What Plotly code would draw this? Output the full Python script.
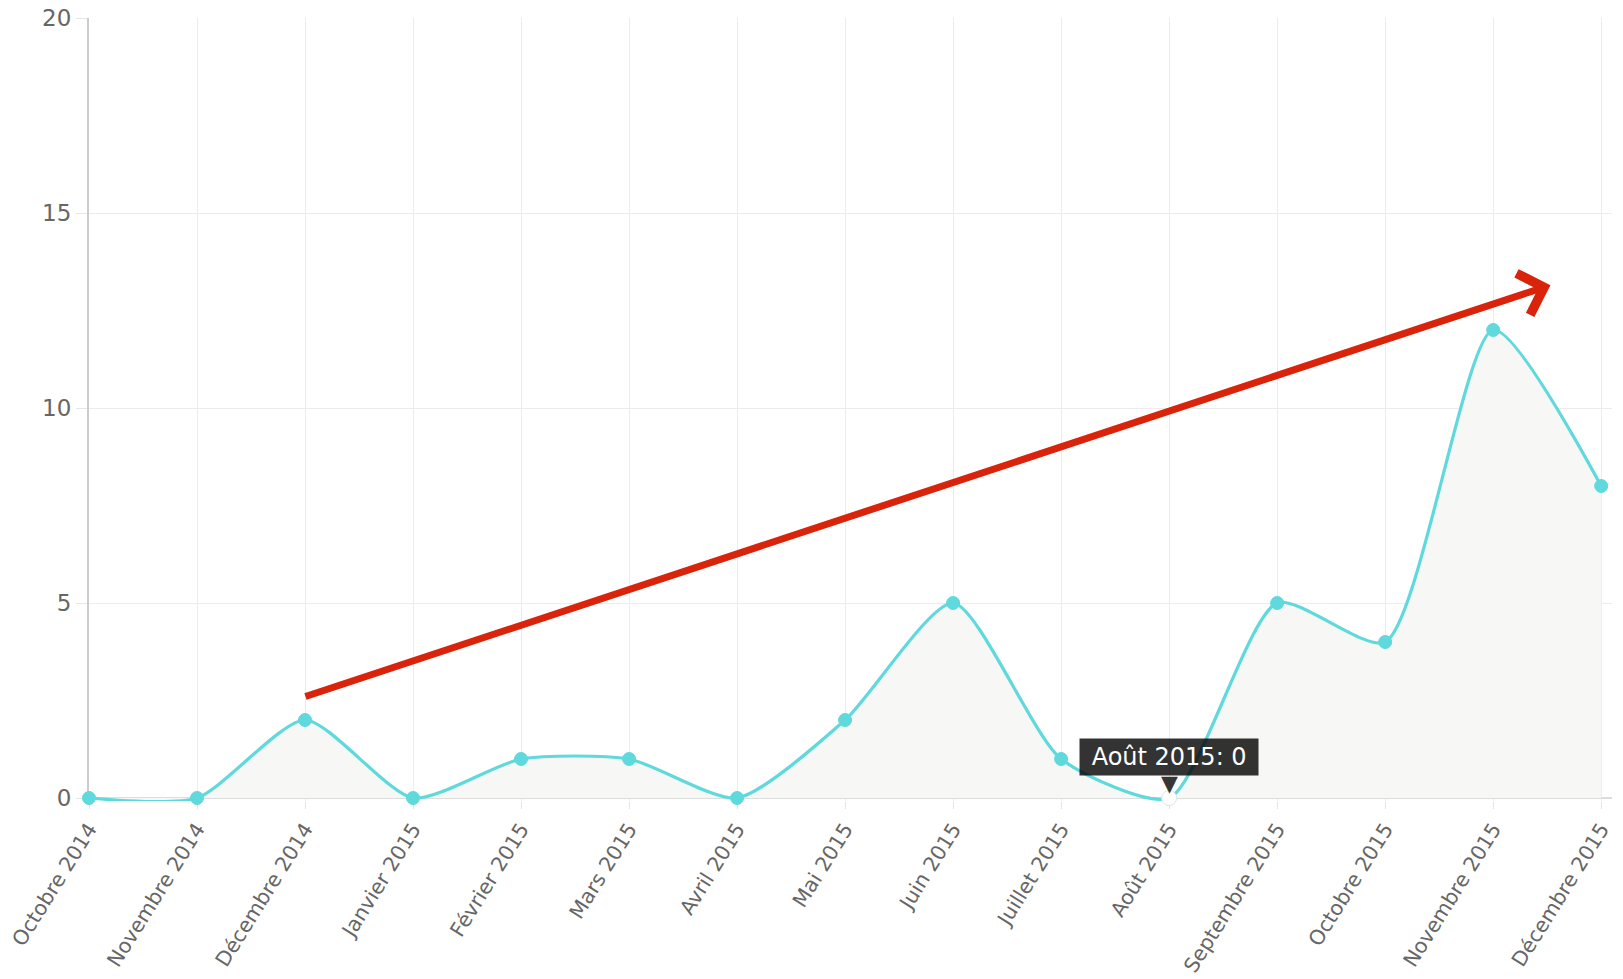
import plotly.graph_objects as go

months = ["Octobre 2014", "Novembre 2014", "Décembre 2014", "Janvier 2015", "Février 2015",
          "Mars 2015", "Avril 2015", "Mai 2015", "Juin 2015", "Juillet 2015", "Août 2015",
          "Septembre 2015", "Octobre 2015", "Novembre 2015", "Décembre 2015"]
values = [0, 0, 2, 0, 1, 1, 0, 2, 5, 1, 0, 5, 4, 12, 8]
y_ticks = [0, 5, 10, 15, 20]
hover_index = 10
tooltip_text = f" {months[hover_index]}: {values[hover_index]} "

# trend arrow (category index, value)
arrow_start = (1.99, 2.59)
arrow_end = (13.53, 13.15)

line_color = "#5fd9db"
FONT = "DejaVu Sans"
idx = list(range(len(months)))
marker_colors = ["white" if i == hover_index else line_color for i in idx]
marker_line_colors = ["#e3e3e3" if i == hover_index else line_color for i in idx]
marker_sizes = [15 if i == hover_index else 13 for i in idx]

fig = go.Figure()
fig.add_trace(go.Scatter(
    x=idx, y=values, mode="lines+markers",
    line=dict(color=line_color, width=3.2, shape="spline", smoothing=0.65),
    fill="tozeroy", fillcolor="rgba(247,247,245,1)",
    marker=dict(size=marker_sizes, color=marker_colors, opacity=1,
                line=dict(color=marker_line_colors, width=1)),
    hoverinfo="skip", showlegend=False, cliponaxis=False,
))

fig.add_annotation(
    x=arrow_end[0], y=arrow_end[1], ax=arrow_start[0], ay=arrow_start[1],
    xref="x", yref="y", axref="x", ayref="y",
    showarrow=True, arrowhead=4, arrowsize=1.2, arrowwidth=7, arrowcolor="#d9230a", text="",
)

fig.add_annotation(
    x=hover_index, y=0, xref="x", yref="y", text="▼", showarrow=False,
    font=dict(size=22, color="rgba(0,0,0,0.8)", family=FONT), yshift=15,
)
fig.add_annotation(
    x=hover_index, y=0, xref="x", yref="y", text=tooltip_text, showarrow=False,
    font=dict(size=24, color="white", family=FONT),
    bgcolor="rgba(0,0,0,0.8)", borderpad=4, yshift=41,
)

fig.update_layout(
    width=1623, height=979,
    margin=dict(l=89, r=11, t=18, b=178),
    plot_bgcolor="white", paper_bgcolor="white",
    font=dict(family=FONT, color="#666666", size=22),
)
fig.update_xaxes(
    range=[0, 14.1], tickmode="array", tickvals=idx, ticktext=months,
    tickangle=-58, showgrid=True, gridcolor="#ececec", gridwidth=1,
    ticks="outside", ticklen=7, tickcolor="#e3e3e3",
    showline=False, zeroline=False, automargin=False,
    tickfont=dict(size=20.5, color="#666666", family=FONT), layer="below traces",
)
fig.update_yaxes(
    range=[-0.077, 20], tickmode="array", tickvals=y_ticks,
    showgrid=True, gridcolor="#ececec", gridwidth=1,
    zeroline=True, zerolinecolor="#dddddd", zerolinewidth=1.5,
    ticks="outside", ticklen=11, tickcolor="#e6e6e6",
    showline=True, linecolor="#cccccc", linewidth=2, automargin=False,
    tickfont=dict(size=23, color="#666666", family=FONT), layer="below traces",
)

fig.write_html("out.html", config={"displayModeBar": False},
               post_script="document.body.style.margin='0';document.body.style.overflow='hidden';")
